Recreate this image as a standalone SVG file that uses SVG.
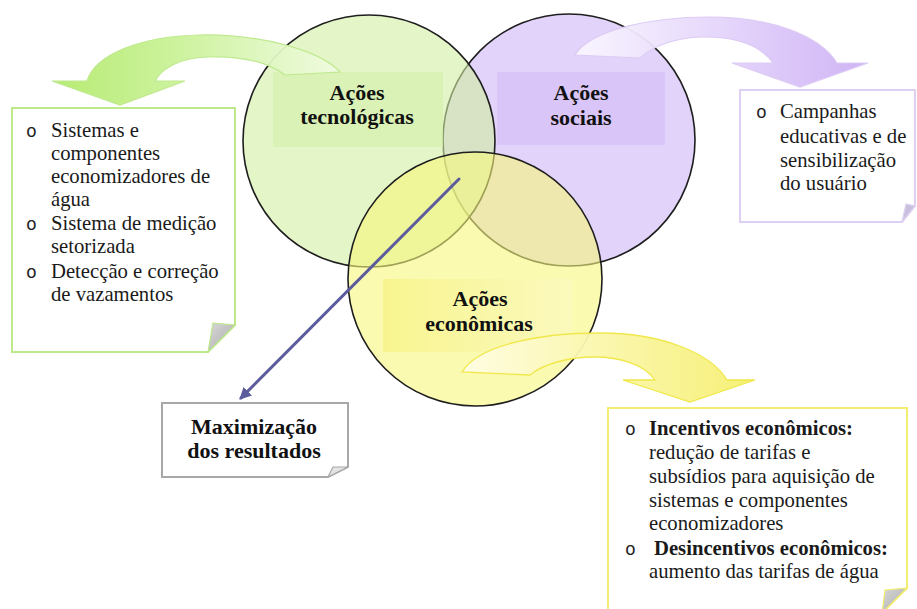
<svg xmlns="http://www.w3.org/2000/svg" width="917" height="609" viewBox="0 0 917 609">
<defs>
<style>
.circ{stroke:#1e1e1e;stroke-width:1.6;fill-opacity:0.6}
text{font-family:"Liberation Serif","DejaVu Serif","Times New Roman",serif}
.lbl{font-weight:bold;font-size:22px;fill:#111;text-anchor:middle}
.txt{font-size:20.7px;fill:#1a1a1a}
.bold{font-weight:bold}
.bul{font-family:"Liberation Mono","Courier New",monospace;font-size:18px;fill:#222}
.box{fill:#ffffff;stroke-width:2}
.fold{stroke-width:1.2}
</style>
<linearGradient id="gArrow" x1="0" y1="0" x2="1" y2="0">
<stop offset="0" stop-color="#b3ea6c"/>
<stop offset="0.45" stop-color="#cbf29a"/>
<stop offset="1" stop-color="#f1fbe2"/>
</linearGradient>
<linearGradient id="pArrow" x1="0" y1="0" x2="1" y2="0">
<stop offset="0" stop-color="#faf7ff"/>
<stop offset="0.5" stop-color="#e4d4fb"/>
<stop offset="1" stop-color="#cdb0f4"/>
</linearGradient>
<linearGradient id="yArrow" x1="0" y1="0" x2="1" y2="0">
<stop offset="0" stop-color="#fffde6"/>
<stop offset="0.5" stop-color="#faf6a8"/>
<stop offset="1" stop-color="#f6ef70"/>
</linearGradient>
<linearGradient id="yLbl" x1="0" y1="0" x2="1" y2="0">
<stop offset="0" stop-color="#f7f385"/>
<stop offset="1" stop-color="#fbf9c0"/>
</linearGradient>
<linearGradient id="foldG" x1="0" y1="0" x2="1" y2="1">
<stop offset="0" stop-color="#d8d8d8"/>
<stop offset="1" stop-color="#a9a9a9"/>
</linearGradient>
<marker id="ah" viewBox="0 0 10 10" refX="8" refY="5" markerWidth="4" markerHeight="4" orient="auto" markerUnits="strokeWidth">
<path d="M0,0 L10,5 L0,10 Z" fill="#5c5c9c"/>
</marker>
</defs>
<rect width="917" height="609" fill="#ffffff"/>

<g id="social">
<circle class="circ" cx="569" cy="140" r="126" fill="#cfb6f7"/>
<rect x="497" y="72" width="168" height="73" fill="#d6c0f6" fill-opacity="0.75"/>
</g>
<g id="tech">
<circle class="circ" cx="369" cy="141" r="126" fill="#d2eea3"/>
<rect x="273" y="72" width="170" height="75" fill="#d6f1ad" fill-opacity="0.7"/>
</g>
<g id="econ">
<circle class="circ" cx="475" cy="279" r="127" fill="#f7f77b"/>
<rect x="383" y="279" width="189" height="73" fill="url(#yLbl)" fill-opacity="0.75"/>
</g>

<g id="connectors">
<path d="M52,81 L87,81 C95,55 140,36 200,35 C260,34 320,50 340,72 L285,75 C265,60 235,56 207,57 C180,58 162,68 155,81 L185,81 L120,105 Z" fill="url(#gArrow)" stroke="#bfe98e" stroke-width="1.2" fill-opacity="0.95"/>
<path d="M575,55 C590,30 650,17 710,17 C770,17 820,35 837,63 L868,63 L800,87 L732,63 L773,63 C760,45 735,37 705,37 C680,37 655,44 640,58 Z" fill="url(#pArrow)" stroke="#dccbf4" stroke-width="1.2" fill-opacity="0.95"/>
<path d="M462,372 C478,345 540,333 600,333 C660,333 710,352 727,380 L755,380 L690,402 L623,380 L655,380 C645,365 620,357 595,357 C570,357 545,363 530,375 Z" fill="url(#yArrow)" stroke="#f0e84a" stroke-width="1.3" fill-opacity="0.95"/>
<line x1="459" y1="179" x2="241" y2="398" stroke="#5c5c9c" stroke-width="3" stroke-linecap="round" marker-end="url(#ah)"/>
</g>

<g id="tech-label">
<text class="lbl" x="357" y="100">Ações</text>
<text class="lbl" x="357" y="124">tecnológicas</text>
</g>
<g id="social-label">
<text class="lbl" x="581" y="100">Ações</text>
<text class="lbl" x="581" y="125">sociais</text>
</g>
<g id="econ-label">
<text class="lbl" x="480" y="306">Ações</text>
<text class="lbl" x="479" y="331">econômicas</text>
</g>

<g id="tech-box">
<path class="box" d="M12,108 H235 V325 L208,352 H12 Z" stroke="#bde88c"/>
<path class="fold" d="M213,323 L235,325 L208,352 Z" fill="url(#foldG)" stroke="#bde88c"/>
<text class="bul" x="26" y="137">o</text>
<text class="txt" x="51" y="137">Sistemas e</text>
<text class="txt" x="51" y="160">componentes</text>
<text class="txt" x="51" y="183">economizadores de</text>
<text class="txt" x="51" y="206">água</text>
<text class="bul" x="26" y="230">o</text>
<text class="txt" x="51" y="230">Sistema de medição</text>
<text class="txt" x="51" y="253">setorizada</text>
<text class="bul" x="26" y="278">o</text>
<text class="txt" x="51" y="278">Detecção e correção</text>
<text class="txt" x="51" y="301">de vazamentos</text>
</g>

<g id="social-box">
<path class="box" d="M740,90 H915 V206 L902,222 H740 Z" stroke="#ddd0f2"/>
<path class="fold" d="M906,204 L915,206 L902,222 Z" fill="#c9bedc" stroke="#ddd0f2"/>
<text class="bul" x="756" y="118">o</text>
<text class="txt" x="780" y="118">Campanhas</text>
<text class="txt" x="780" y="143">educativas e de</text>
<text class="txt" x="780" y="167">sensibilização</text>
<text class="txt" x="780" y="190">do usuário</text>
</g>

<g id="econ-box">
<path class="box" d="M608,408 H907 V588 L882,613 H608 Z" stroke="#f3ee6e"/>
<path class="fold" d="M885,590 L907,588 L882,613 Z" fill="url(#foldG)" stroke="#f3ee6e"/>
<text class="bul" x="625" y="435">o</text>
<text class="txt bold" x="649" y="435">Incentivos econômicos:</text>
<text class="txt" x="649" y="459">redução de tarifas e</text>
<text class="txt" x="649" y="483">subsídios para aquisição de</text>
<text class="txt" x="649" y="507">sistemas e componentes</text>
<text class="txt" x="649" y="530">economizadores</text>
<text class="bul" x="625" y="555">o</text>
<text class="txt bold" x="654" y="555">Desincentivos econômicos:</text>
<text class="txt" x="649" y="578">aumento das tarifas de água</text>
</g>

<g id="result">
<path class="box" d="M162,403 H348 V467 L328,477 H162 Z" stroke="#a8a8a8" stroke-width="1.6"/>
<path class="fold" d="M333,467 L348,467 L328,477 Z" fill="#e4e4e4" stroke="#a8a8a8"/>
<text class="lbl" x="254" y="434">Maximização</text>
<text class="lbl" x="254" y="458">dos resultados</text>
</g>
</svg>
